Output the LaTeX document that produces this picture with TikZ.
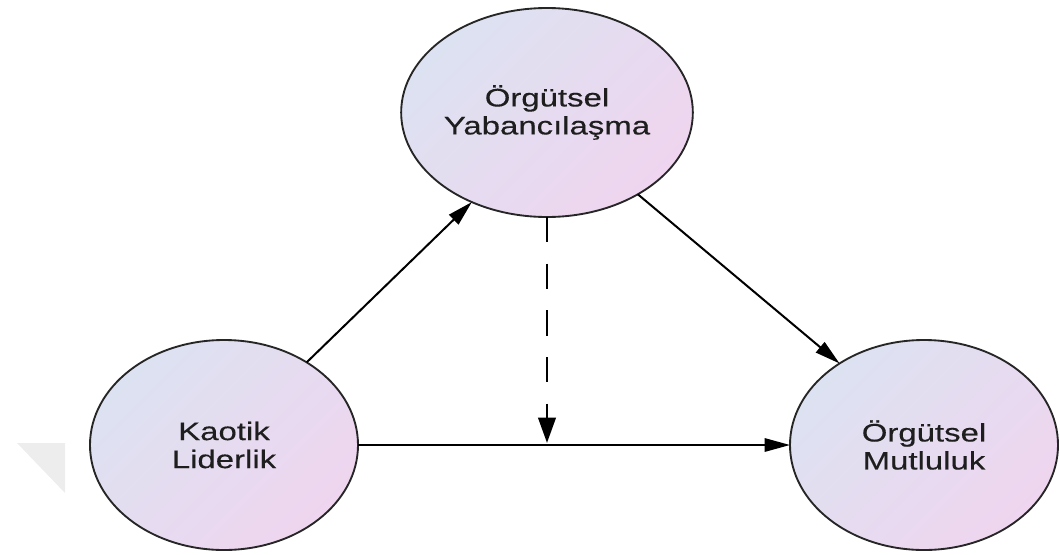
\documentclass[tikz,border=0pt]{standalone}
\usepackage{fontspec}
\newfontfamily\labelfont[FakeStretch=1.3,FakeBold=0.35]{Liberation Sans}
\usetikzlibrary{shapes.geometric,arrows.meta}
\definecolor{fillA}{HTML}{DCE2F1}
\definecolor{fillB}{HTML}{EFD5EF}
\definecolor{rim}{HTML}{262626}
\definecolor{ink}{HTML}{1E1E1E}
\definecolor{cornergray}{HTML}{EDEDED}
\begin{document}
\begin{tikzpicture}[x=0.75pt,y=-0.75pt,
  construct/.style={ellipse, draw=rim, line width=1.4pt, inner sep=0pt, outer sep=0pt,
    top color=fillA, bottom color=fillB, shading angle=45,
    minimum width=201pt, minimum height=157.5pt,
    font=\labelfont\fontsize{19}{21}\selectfont, text=ink, align=center},
  link/.style={line width=1.5pt, draw=black, -{Triangle[length=19pt,width=10pt]}},
  moderator/.style={line width=2.2pt, draw=black, dash pattern=on 19pt off 16pt,
    -{Triangle[length=19pt,width=13pt]}, shorten >=1.5pt}]
\useasboundingbox (0,0) rectangle (1060,554);

% faint corner mark
\fill[fill=cornergray] (17,443) -- (65,443) -- (65,493) -- cycle;

% constructs
\node[construct, minimum width=202.5pt, minimum height=156.75pt] (T) at (547,112.5) {Örgütsel\\Yabancılaşma};
\node[construct] (L) at (224,445) {Kaotik\\Liderlik};
\node[construct] (R) at (924,445) {Örgütsel\\Mutluluk};

% relations
\draw[link] (L.45) -- (T.230);
\draw[link] (T.318) -- (R.136);
\draw[link] (L.east) -- (R.west);
\coordinate (M) at (T.south |- L.east);
\draw[moderator] (T.south) -- (M);
\end{tikzpicture}
\end{document}
